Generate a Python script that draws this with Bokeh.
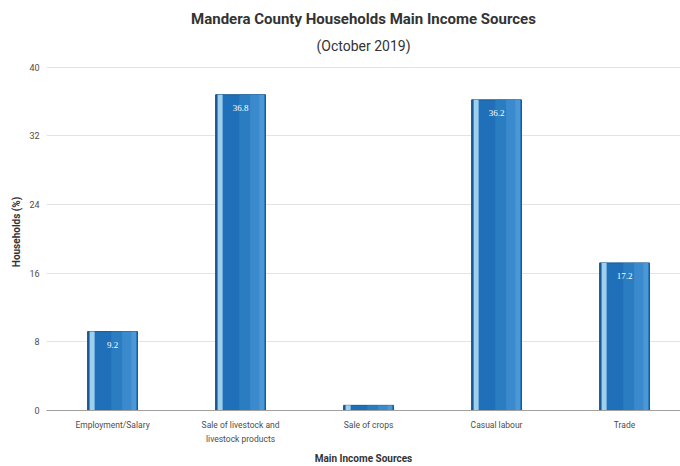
from bokeh.plotting import figure
from bokeh.models import ColumnDataSource, Title, FixedTicker, LabelSet, Range1d
from bokeh.transform import dodge
from bokeh.embed import file_html
from bokeh.resources import INLINE

categories = ["Employment/Salary", "Sale of livestock and\nlivestock products",
              "Sale of crops", "Casual labour", "Trade"]
values = [9.2, 36.8, 0.6, 36.2, 17.2]
value_labels = ["9.2", "36.8", "", "36.2", "17.2"]
y_ticks = [0, 8, 16, 24, 32, 40]

FONT = "Roboto"

xs = list(range(len(categories)))
src = ColumnDataSource(dict(x=xs, top=values, lab=value_labels))

p = figure(width=680, height=466, output_backend="svg", toolbar_location=None,
           x_range=Range1d(-0.516, 4.437), y_range=Range1d(0, 41.6),
           min_border_left=46, min_border_right=0, min_border_top=10, min_border_bottom=0)

p.add_layout(Title(text="(October 2019)", align="center", text_font_size="14px",
                   text_font_style="normal", text_color="#333333", text_font=FONT,
                   offset=5, standoff=0), "above")
p.add_layout(Title(text="Mandera County Households Main Income Sources", align="center",
                   text_font_size="15px", text_font_style="bold", text_color="#333333",
                   text_font=FONT, offset=5, standoff=15), "above")

bw = 0.39
p.vbar(x="x", top="top", width=bw, source=src, fill_color="#1f70b8",
       line_color="#1a5a92", line_width=1)
p.vbar(x=dodge("x", 0.04, range=p.x_range), top="top", width=0.1, source=src,
       fill_color="#2b7dc2", line_color=None)
p.vbar(x=dodge("x", 0.11, range=p.x_range), top="top", width=0.07, source=src,
       fill_color="#3a8acd", line_color=None)
p.vbar(x=dodge("x", 0.165, range=p.x_range), top="top", width=0.04, source=src,
       fill_color="#4c98d6", line_color=None)
p.vbar(x=dodge("x", -0.16, range=p.x_range), top="top", width=0.04, source=src,
       fill_color="#9fcfef", line_color=None)
p.vbar(x=dodge("x", -0.188, range=p.x_range), top="top", width=0.012, source=src,
       fill_color="#1a5a92", line_color=None)

labels = LabelSet(x="x", y="top", text="lab", source=src, text_align="center",
                  text_baseline="middle", y_offset=-13, text_color="white",
                  text_font_size="9px", text_font=FONT)
p.add_layout(labels)

p.xgrid.grid_line_color = None
p.ygrid.grid_line_color = "#e3e3e3"
p.ygrid.grid_line_width = 1
p.outline_line_color = None
p.background_fill_color = "white"

p.yaxis.ticker = FixedTicker(ticks=y_ticks)
p.xaxis.ticker = FixedTicker(ticks=xs)
p.xaxis.major_label_overrides = {i: c for i, c in zip(xs, categories)}

p.yaxis.axis_label = "Households (%)"
p.xaxis.axis_label = "Main Income Sources"
for ax in (p.xaxis, p.yaxis):
    ax.axis_label_text_font = FONT
    ax.axis_label_text_font_style = "bold"
    ax.axis_label_text_font_size = "10px"
    ax.axis_label_text_color = "#333333"
    ax.major_label_text_font = FONT
    ax.major_label_text_color = "#4d4d4d"
    ax.major_tick_line_color = None
    ax.minor_tick_line_color = None
    ax.major_tick_out = 0
    ax.major_tick_in = 0
p.yaxis.major_label_text_font_size = "9px"
p.xaxis.major_label_text_font_size = "8.5px"
p.xaxis.major_label_text_line_height = 1.4
p.yaxis.axis_line_color = None
p.xaxis.axis_line_color = "#a0a0a0"
p.yaxis.major_label_standoff = 7
p.yaxis.axis_label_standoff = 4
p.xaxis.major_label_standoff = 9
p.xaxis.axis_label_standoff = 6

open("out.html", "w").write(file_html(p, INLINE))
